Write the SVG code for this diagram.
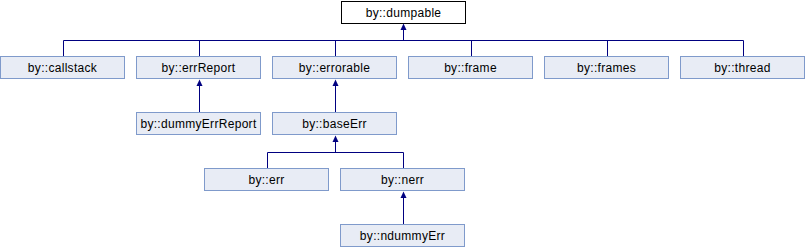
<svg xmlns="http://www.w3.org/2000/svg" width="806" height="248" viewBox="0 0 806 248">
<style>
.box{fill:#e8ecf5;stroke:#7f9acb;stroke-width:1}
.root{fill:#ffffff;stroke:#000000;stroke-width:1}
.lbl{font-family:"Liberation Sans",Arial,sans-serif;font-size:12px;letter-spacing:0.3px;fill:#000000;text-anchor:middle}
.ln{stroke:#000080;stroke-width:1;fill:none}
.ah{fill:#000080}
</style>
<rect width="806" height="248" fill="#ffffff"/>
<g id="connectors">
<path class="ln" d="M403.5,26 V40.5 M63.5,40.5 H743.5 M63.5,40.5 V56 M199.5,40.5 V56 M335.5,40.5 V56 M471.5,40.5 V56 M607.5,40.5 V56 M743.5,40.5 V56"/>
<polygon class="ah" points="403.5,23.5 400.5,30 406.5,30"/>
<path class="ln" d="M199.5,84 V112"/>
<polygon class="ah" points="199.5,79.5 196.5,86 202.5,86"/>
<path class="ln" d="M335.5,84 V112"/>
<polygon class="ah" points="335.5,79.5 332.5,86 338.5,86"/>
<path class="ln" d="M335.5,140 V152.5 M267.5,152.5 H403.5 M267.5,152.5 V168 M403.5,152.5 V168"/>
<polygon class="ah" points="335.5,135.5 332.5,142 338.5,142"/>
<path class="ln" d="M403.5,196 V224"/>
<polygon class="ah" points="403.5,191.5 400.5,198 406.5,198"/>
</g>
<g id="dumpable"><rect class="root" x="341.5" y="1.5" width="124" height="22"/><text class="lbl" x="403.5" y="17">by::dumpable</text></g>
<g id="callstack"><rect class="box" x="0.5" y="56.5" width="124" height="22"/><text class="lbl" x="62.5" y="72">by::callstack</text></g>
<g id="errReport"><rect class="box" x="136.5" y="56.5" width="124" height="22"/><text class="lbl" x="198.5" y="72">by::errReport</text></g>
<g id="errorable"><rect class="box" x="272.5" y="56.5" width="124" height="22"/><text class="lbl" x="334.5" y="72">by::errorable</text></g>
<g id="frame"><rect class="box" x="408.5" y="56.5" width="124" height="22"/><text class="lbl" x="470.5" y="72">by::frame</text></g>
<g id="frames"><rect class="box" x="544.5" y="56.5" width="124" height="22"/><text class="lbl" x="606.5" y="72">by::frames</text></g>
<g id="thread"><rect class="box" x="680.5" y="56.5" width="124" height="22"/><text class="lbl" x="742.5" y="72">by::thread</text></g>
<g id="dummyErrReport"><rect class="box" x="136.5" y="112.5" width="124" height="22"/><text class="lbl" x="198.5" y="128">by::dummyErrReport</text></g>
<g id="baseErr"><rect class="box" x="272.5" y="112.5" width="124" height="22"/><text class="lbl" x="334.5" y="128">by::baseErr</text></g>
<g id="err"><rect class="box" x="204.5" y="168.5" width="124" height="22"/><text class="lbl" x="266.5" y="184">by::err</text></g>
<g id="nerr"><rect class="box" x="340.5" y="168.5" width="124" height="22"/><text class="lbl" x="402.5" y="184">by::nerr</text></g>
<g id="ndummyErr"><rect class="box" x="340.5" y="224.5" width="124" height="22"/><text class="lbl" x="402.5" y="240">by::ndummyErr</text></g>
</svg>
